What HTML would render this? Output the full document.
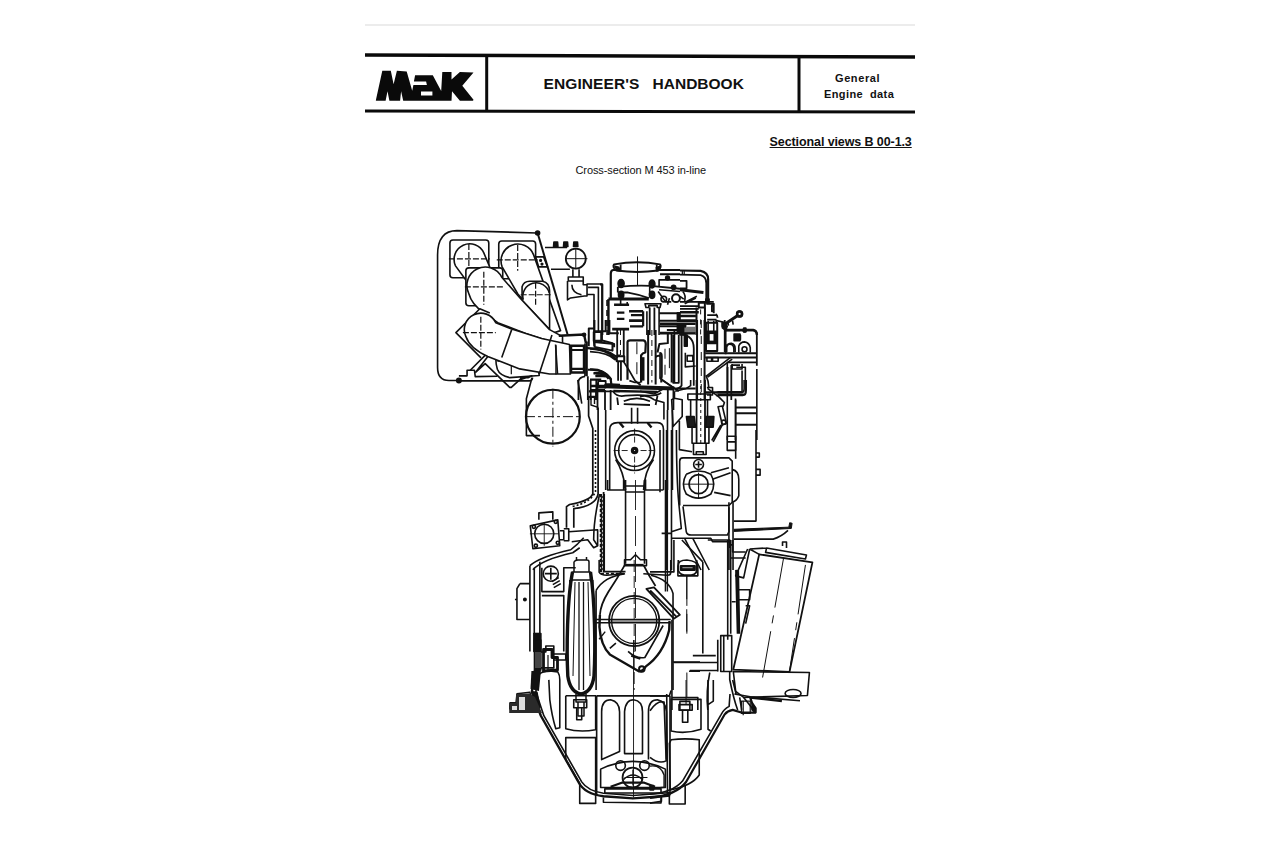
<!DOCTYPE html>
<html><head><meta charset="utf-8">
<style>
html,body{margin:0;padding:0;background:#fff;}
body{width:1280px;height:853px;position:relative;overflow:hidden;font-family:"Liberation Sans",sans-serif;color:#111;}
.abs{position:absolute;white-space:nowrap;}
.ln{position:absolute;background:#0a0a0a;}
#title{left:543.5px;top:75px;font-size:15.5px;font-weight:bold;letter-spacing:0.1px;}
#t2{left:652.6px;top:75px;font-size:15.5px;font-weight:bold;letter-spacing:0px;}
#gen{left:835px;top:72px;font-size:11px;font-weight:bold;letter-spacing:0.6px;}
#eng{left:824px;top:88px;font-size:11px;font-weight:bold;letter-spacing:0.4px;}
#sec{left:769.6px;top:135px;font-size:12.5px;font-weight:bold;letter-spacing:-0.1px;text-decoration:underline;}
#cross{left:575.5px;top:163.5px;font-size:11px;letter-spacing:-0.1px;}
svg{position:absolute;left:0;top:0;}
svg g[transform] *{vector-effect:non-scaling-stroke;}
</style></head><body>
<div class="ln" style="left:365px;top:24px;width:550px;height:2px;background:#ececec"></div>
<svg width="1280" height="853" viewBox="0 0 1280 853">
<g stroke="#0a0a0a" fill="none">
<path d="M365 55 L915 57" stroke-width="3.5"/>
<path d="M365 111 L915 112" stroke-width="3"/>
<path d="M486.7 56 L486.7 111" stroke-width="3"/>
<path d="M799 57 L799 112" stroke-width="3"/>
</g>
<g fill="#0a0a0a">
<path d="M375.8,100.6 L382.3,70.7 L390.8,70.7 L393.6,84.3 L396.9,70.7 L406.7,71.4 L412.2,90.8 L413.4,84.9 L426.9,84.9 L426.1,81.5 L413.9,81.5 L415.1,75.2 L432.8,75.2 L441.2,91 L442.3,72.1 L451.5,72.1 L451.5,79.6 L459.9,72.1 L473.5,72.6 L462.3,85.7 L473.5,99.8 L473,100.7 L459.9,100.7 L452,91.3 L451.5,100.7 Z M385.6,100.8 L387.5,91.3 L389.4,100.8 Z M400.1,100.8 L401.1,91.3 L403.2,100.8 Z M421,91.6 L432.4,91.6 L432.4,95.4 L421,95.4 Z" fill-rule="evenodd"/>
</g>

<g id="rA" transform="translate(430 225) scale(0.19928)" fill="none" stroke="#111" stroke-width="1.6" stroke-linejoin="round">
<path d="M145,780 L95,780 Q38,780 38,715 L38,150 Q38,28 135,28 L535,40"/>
<path d="M540,40 L690,548" stroke-width="2"/>
<path d="M145,782 L500,782 Q512,782 515,766 M145,757 L186,757 L186,729 L223,729 L227,761 L338,759"/>
<circle cx="540" cy="40" r="10" fill="#111"/><circle cx="145" cy="780" r="11" fill="#111"/>
<path d="M530,160 L570,160 L590,210 L545,210 Z"/><circle cx="555" cy="178" r="4" fill="#111"/><circle cx="562" cy="196" r="4" fill="#111"/>
<path d="M100,90 Q100,75 115,75 L280,75 Q295,75 295,90 L295,250 Q295,265 280,265 L115,265 Q100,265 100,250 Z" fill="#fff"/>
<path d="M128,205 A75,75 0 0 1 270,140 L310,235 L190,290 Z" fill="#fff"/>
<path d="M95,170 L300,170 M195,95 L195,250" stroke-dasharray="6 2" stroke-width="1.2"/>
<path d="M345,95 Q345,80 360,80 L515,80 Q530,80 530,95 L530,270 L345,270 Z" fill="#fff"/>
<path d="M362,210 A80,80 0 0 1 520,150 L655,530 L610,545 L440,345 Z" fill="#fff"/>
<path d="M335,175 L540,175 M440,100 L440,230" stroke-dasharray="6 2" stroke-width="1.2"/>
<path d="M462,380 L462,310 Q470,282 500,282 L565,282 Q600,290 600,330 L600,525 L455,370 Z" fill="#fff"/>
<path d="M468,375 A62,62 0 0 1 598,340"/>
<path d="M455,350 L610,350 M530,290 L530,400" stroke-dasharray="6 2" stroke-width="1.2"/>
<path d="M180,230 Q180,215 195,215 L350,215 Q365,215 365,230 L365,390 Q365,405 350,405 L195,405 Q180,405 180,390 Z" fill="#fff"/>
<path d="M195,345 A80,80 0 0 1 360,262 L455,370 L600,525 L665,560 L665,605 L480,545 L340,490 L270,440 Q210,400 195,345 Z" fill="#fff"/>
<path d="M175,310 L375,310 M270,235 L270,400" stroke-dasharray="6 2" stroke-width="1.2"/>
<path d="M300,442 L250,420 L130,540 L256,667" fill="#fff"/>
<path d="M202,729 L289,642 M227,741 L301,646 M227,741 L277,696 L400,815 L408,815 L462,766"/>
<path d="M330,663 Q330,700 338,724 Q350,755 400,766 L548,755 L540,700 Z" fill="#fff"/>
<path d="M338,683 L380,683 M408,692 L408,749" stroke-width="1.2"/>
<path d="M180,560 A75,75 0 0 1 330,490 L410,522 L560,570 L700,600 L705,748 L600,748 L450,722 L290,660 Q200,620 180,560 Z" fill="#fff"/>
<path d="M165,540 L330,540 M255,460 L255,625" stroke-dasharray="6 2" stroke-width="1.2"/>
<path d="M410,525 L360,665 M612,552 L548,748 M630,600 L640,748"/>
<path d="M620,108 L622,85 L640,85 L642,108 Z M670,108 L672,85 L690,85 L692,108 Z M720,108 L722,85 L740,85 L742,108 Z" fill="#111"/>
<path d="M577,113 L688,113 M607,222 L702,222 M717,222 L717,261 M748,222 L748,261"/>
<circle cx="731.6" cy="169" r="50" stroke-width="1.8"/>
<path d="M681,169 L790,169 M731.6,120 L731.6,218" stroke-width="1"/>
<path d="M694,261 L769,261 L769,281 L694,281 Z" stroke-width="1.6"/>
<path d="M690,281 L690,376 L705,366 L775,356 L788,356 L788,296 L863,296 L863,532 M769,281 L769,300 L788,300 M712,300 Q712,340 760,350"/>
<path d="M793,313 L845,313 L845,532 M788,349 L823,349 L823,532" stroke-width="1.6"/>

</g>



<g id="rC" transform="translate(520 320) scale(0.19928)" fill="none" stroke="#111" stroke-width="1.6" stroke-linejoin="round">
<circle cx="165" cy="485" r="135" stroke-width="2.2"/>
<path d="M25,485 L310,485 M165,345 L165,635" stroke-dasharray="10 3 3 3" stroke-width="1"/>
<path d="M60,290 L32,395 L32,580 L100,580 M290,300 L310,420"/>
<path d="M0,290 L40,290 L60,280 L0,300"/>
<path d="M430,452 L430,853 M740,452 L740,853 M765,452 L765,853"/>
<path d="M560,440 L560,520 M590,440 L590,520"/>
<path d="M450,853 L450,550 Q450,515 490,515 L690,515 Q720,515 720,550 L720,853"/>
<path d="M500,515 L520,540 M640,515 L660,540" stroke-width="2.4"/>
<circle cx="575" cy="655" r="100"/><circle cx="575" cy="655" r="80"/>
<circle cx="575" cy="655" r="11" stroke-width="3.2"/>
<path d="M470,655 L545,655 M605,655 L685,655 M575,545 L575,625 M575,685 L575,770" stroke-dasharray="6 2" stroke-width="0.9"/>
<path d="M480,700 Q520,760 530,853 M670,700 Q625,760 620,853 M520,853 L520,800 M630,853 L630,800"/>
</g>

<g id="rD" transform="translate(660 300) scale(0.16412)" fill="none" stroke="#111" stroke-width="1.6" stroke-linejoin="round">
<path d="M390,150 L475,92"/><circle cx="485" cy="85" r="16" stroke-width="2"/>
<path d="M380,140 L410,160 L400,185 L380,170 Z" fill="#111"/>
<path d="M400,330 L400,185 L570,185 Q590,188 590,210 L590,400" stroke-width="1.8"/>
<circle cx="515" cy="185" r="10" fill="#111"/>
<path d="M400,320 L400,290 Q400,270 425,270 Q450,270 450,300 L450,320 M480,320 L480,280 Q490,255 515,255 Q545,260 550,290 L550,320 M460,240 L460,215 L490,215 L490,240 Z"/>
<circle cx="515" cy="300" r="15"/>
<path d="M275,325 L590,325 M275,350 L590,350" stroke-width="2"/>
<path d="M280,465 L430,350 M290,470 L440,360"/>
<path d="M410,380 L590,380 M410,380 L410,853 M590,420 L590,853 M440,390 L440,420 L500,420 L500,390"/>
<path d="M465,410 L520,410 L520,575 L350,575 M500,430 L500,560 L350,560 M460,600 L460,853"/>
<path d="M460,655 L590,655 M460,690 L590,690 M460,760 L590,760" stroke-width="2"/>
</g>

<g id="rE" transform="translate(660 430) scale(0.16412)" fill="none" stroke="#111" stroke-width="1.6" stroke-linejoin="round">
<path d="M585,0 L585,555 L450,555" stroke-width="1.6"/>
<path d="M585,140 L605,140 L605,165 L585,165 M585,240 L610,240 L610,275 L585,275"/>
<path d="M450,605 L785,592 L790,565 L805,568 L800,600 L450,618" fill="#111" stroke-width="1"/>
<path d="M450,665 L690,665 Q740,650 780,612"/>
<path d="M120,460 L120,190 Q120,170 140,170 L420,170 L440,190 L440,440"/>
<path d="M140,460 L420,460 L440,440 M440,240 Q480,250 480,300 L480,400 Q470,430 440,440"/>
<circle cx="235" cy="210" r="30"/><path d="M215,210 L255,210 M235,190 L235,230"/>
<circle cx="235" cy="330" r="58" stroke-width="1.8"/>
<path d="M160,270 Q235,230 310,270 Q345,330 310,390 Q235,440 160,390 Q125,330 160,270"/>
<path d="M140,330 L330,330 M235,260 L235,420" stroke-width="1"/>
<path d="M310,260 L420,230 M320,300 L430,260 M330,380 L430,400"/>
<path d="M140,465 L160,620 Q165,640 190,640 L410,640 L420,620 L420,470"/>
<path d="M420,440 L420,853 M445,440 L445,853"/>
<path d="M40,0 L40,853 M70,0 L70,853 M100,0 Q100,300 115,450 L130,600 L70,620"/>
<path d="M0,0 L0,380"/>
<path d="M10,630 L70,630 M70,660 L130,660 L310,660 L320,680 L420,680"/>
<path d="M150,660 L250,853 M200,660 L300,853 M420,700 L440,700"/>
</g>

<g id="rF" transform="translate(500 480) scale(0.19928)" fill="none" stroke="#111" stroke-width="1.6" stroke-linejoin="round">
<path d="M630,0 L630,420 M725,0 L725,420"/>
<path d="M630,30 L725,30 M630,60 L725,60 M625,400 L655,400 L680,375 L705,400 L735,400 L735,430 L625,430 Z"/>
<path d="M680,0 L680,860" stroke-dasharray="30 6" stroke-width="0.9"/>
<path d="M520,60 L520,460 L630,460" stroke-width="1.8"/><path d="M505,70 L505,470 L630,470" stroke-width="1.8" stroke-dasharray="3 2"/>
<path d="M830,0 L830,560 M840,0 L840,560" stroke-width="1.4"/>
<path d="M540,0 L540,50 L630,50 M820,50 L725,50"/>
<path d="M152,230 L290,200 L300,330 L165,345 Z"/>
<circle cx="222" cy="270" r="48"/>
<path d="M150,270 L295,270 M222,215 L222,330" stroke-width="0.9"/>
<path d="M195,200 L195,165 L265,160 L265,200"/>
<circle cx="170" cy="235" r="8"/><circle cx="280" cy="210" r="8"/><circle cx="180" cy="330" r="8"/><circle cx="290" cy="315" r="8"/>
<path d="M300,255 L320,255 L320,300 L300,300 M320,245 L345,245 L345,305 L320,305 M345,260 L490,250 L490,330 L470,340 L440,300 L360,310"/>
<path d="M150,430 Q200,385 355,350 L390,320 L420,290 M165,450 Q210,400 365,365 L400,340" stroke-width="1.6"/>
<path d="M210,440 L210,560 L320,560 L320,440 L380,440"/>
<circle cx="255" cy="470" r="38"/><path d="M225,470 L285,470 M255,440 L255,500"/>
<path d="M260,510 L295,490 M265,525 L300,505 M270,540 L305,520"/>
<path d="M150,430 L150,860 M200,410 L200,860 M210,580 L320,580 L320,860 M172,440 L172,770"/><circle cx="125" cy="600" r="6" fill="#111"/><path d="M168,770 L200,770" stroke-width="1"/>
<path d="M100,520 L150,520 M100,520 L85,545 L85,700 L150,700 M75,600 L85,600"/>
<path d="M170,770 L205,770 L205,860 L170,860 Z" fill="#111"/>
<path d="M500,70 Q470,200 470,300 L490,330"/>
</g>

<g id="rG" transform="translate(500 640) scale(0.19928)" fill="none" stroke="#111" stroke-width="1.6" stroke-linejoin="round">
<path d="M175,0 L175,150 L160,260 L205,380 L395,715 Q425,772 519,784 L667,795 L815,784 L853,780" stroke-width="2.4"/>
<path d="M195,0 L195,140 L180,260 L220,380 L410,712 Q440,757 519,769 L667,780 L815,769 L853,765"/>
<path d="M175,0 L205,0 L205,150 L180,160 Z M160,260 L185,262 L200,340 L180,345 Z" fill="#111"/>
<path d="M50,345 L50,315 L80,315 L85,270 L150,262 L170,345 Z" stroke-width="1.4"/>
<path d="M50,330 L90,330 L90,345 L50,345 Z" fill="#111"/>
<path d="M195,175 Q210,155 250,155 L290,160 Q300,175 300,200 L300,440 L280,445 Q260,380 250,300 L245,200"/>
<path d="M200,60 L200,140 L270,140 L270,30 L230,30 L230,60 Z M270,100 L330,100 L330,70 L270,70"/>

<path d="M370,300 L435,300 L435,340 L370,340 Z M385,340 L385,400 L410,400 L410,340"/>
<path d="M330,280 L330,445 Q400,465 480,450 L480,280 L330,280"/>
<path d="M330,490 L480,490 L480,820 L400,820 L400,720 L330,600 Z"/>
<path d="M485,280 L853,280" stroke-width="1.8"/>
<path d="M510,600 L510,360 Q510,300 555,300 Q600,310 600,360 L600,560 Z M625,570 L625,360 Q630,300 670,300 Q715,305 715,360 L715,570 Z M745,600 L745,360 Q745,300 790,300 Q835,310 835,360 L835,600"/>
<path d="M485,280 L485,780 M853,280 L853,780"/>
<path d="M505,648 Q667,570 830,648 L830,740 L505,740 Z"/>
<circle cx="665" cy="690" r="50" stroke-width="1.8"/>
<circle cx="605" cy="630" r="24"/><circle cx="725" cy="630" r="24"/>
<path d="M555,736 L611,716 L724,716 L778,736" stroke-width="2.2"/><path d="M620,700 Q667,655 715,700" stroke-width="1.6"/>
<path d="M625,690 L740,690 M667,650 L667,730" stroke-width="1.2"/>
<path d="M526,747 L808,747 L808,768 L526,768 Z M519,790 L519,814 L808,818 L808,790"/>
<path d="M670,0 L670,790" stroke-width="0.9"/>
</g>

<g id="rH" transform="translate(650 540) scale(0.19928)" fill="none" stroke="#111" stroke-width="1.6" stroke-linejoin="round">
<path d="M548,72 L815,112 L700,662 L418,650 Z" stroke-width="1.8"/>
<path d="M670,92 L565,690 M780,125 L700,660" stroke-dasharray="50 8 8 8" stroke-width="1"/>
<path d="M585,40 L785,75 L780,95 L580,62 Z M500,45 L585,40 M500,45 L470,190 L430,180 L490,45 M500,45 L548,72"/>
<path d="M665,30 L665,10 L685,10 L685,40" stroke-width="1.6"/>
<path d="M418,660 L800,665 L790,780 L470,790 L430,760 Z"/>
<ellipse cx="718" cy="770" rx="40" ry="20"/>
<path d="M470,790 L520,853 M450,790 L460,853"/>
<path d="M390,0 L390,500 M405,0 L405,470 M415,0 L415,60 L480,60 M405,90 L480,90"/>
<path d="M432,150 L440,470 M442,150 L448,470" stroke-width="2"/>
<path d="M440,250 L500,250 L500,300 L440,300 M410,310 L430,310 M480,330 L500,330 L480,420"/>
<path d="M355,480 L410,480 L410,660 L355,660 Z M370,480 L370,660 M340,500 L340,660"/>
<path d="M140,180 L140,130 Q140,100 185,100 Q240,105 240,135 L240,180 Z"/>
<path d="M155,130 L225,130 L225,150 L155,150 Z" stroke-width="2"/>
<path d="M185,180 L185,470" stroke-dasharray="30 8" stroke-width="1"/>
<path d="M265,110 L265,570 M160,0 L265,110 M120,0 L120,160 L0,160"/>
<path d="M215,580 L330,580 M120,615 L340,615 M200,655 L340,655"/>
<path d="M110,400 L110,853 M110,790 L240,790 L240,853 M150,810 L200,810 L200,853 L150,853 Z"/>
<path d="M185,665 L185,790" stroke-dasharray="30 8" stroke-width="1"/>
<path d="M300,665 Q280,760 290,853 M400,660 L400,700 Q420,800 440,853"/>
<path d="M290,0 L400,0 L400,40"/>
</g>

<g id="rI" transform="translate(650 680) scale(0.17584)" fill="none" stroke="#111" stroke-width="1.6" stroke-linejoin="round">
<path d="M0,670 Q150,655 205,580 L425,195 Q440,175 470,170 L520,185 L600,185 L600,160 L580,130 L570,100 L750,120" stroke-width="2.2"/>
<path d="M0,650 Q130,640 185,575 L405,195 Q420,165 450,150 L455,80"/>
<path d="M480,80 L570,95 L853,118 M470,0 L490,80"/>
<path d="M520,120 L570,120 L570,190 L520,190 Z M530,120 L530,200" stroke-width="1.2"/>
<path d="M580,135 L600,160 L600,185 L580,170 Z" fill="#111"/>
<path d="M120,110 L290,110 L290,280 Q200,310 120,290 Z" stroke-width="1.6"/>
<path d="M165,140 L240,140 L240,172 L165,172 Z M185,172 L185,240 L215,240 L215,172" stroke-width="1.6"/>
<path d="M205,0 L205,140" stroke-dasharray="25 8" stroke-width="1"/>
<path d="M120,340 Q200,330 280,340 L280,540 Q240,600 115,625 L110,360 Z" stroke-width="1.6"/>
<path d="M0,175 Q40,115 80,125 L92,460 Q50,480 0,440" stroke-width="1.6"/>
<path d="M0,490 Q60,480 80,540 L80,610 L0,620" stroke-width="1.4"/>
<path d="M95,80 L100,660 M0,90 L110,90 L120,60 M330,0 L330,280 L345,290 M360,0 L360,120 L330,140"/>
<path d="M110,660 L110,705 L200,705 L200,600 M0,700 L65,690 L65,660"/>
<path d="M0,600 L20,600 L20,625 L0,625 Z" fill="#111"/>
</g>

<g id="rJ" transform="translate(640 380) scale(0.14069)" fill="none" stroke="#111" stroke-width="1.6" stroke-linejoin="round">
<path d="M402,0 L402,455 M462,0 L462,455" stroke-width="1.8"/>
<path d="M432,0 L432,450" stroke-dasharray="3 3" stroke-width="1"/>
<path d="M340,140 L340,100 L500,100 L500,140 L340,140 M360,140 L360,260 M480,140 L480,260"/>
<path d="M330,260 L385,260 L395,335 L340,335 Z M470,260 L525,260 L520,335 L465,335 Z" fill="#1a1a1a"/>
<path d="M370,335 L370,450 L490,450 L490,335 M380,450 L380,530 L470,530 L470,450 M400,510 L450,510 L450,530 L400,530 Z"/>
<path d="M245,80 L245,130 L225,140 L235,330 L300,260 L300,140 L245,130 M280,290 L280,495 L370,510"/>
<path d="M555,190 L585,185 L615,310 L585,320 Z" stroke-width="1.6"/>
<circle cx="595" cy="300" r="15"/>
<path d="M590,310 L520,440 M575,320 L510,430"/>
<path d="M620,400 L680,400 L680,500 L620,500 Z M620,440 L680,440"/>
<path d="M540,90 L720,90 Q740,90 740,60 L740,0 M540,110 L730,110 Q755,110 755,70 L755,0"/>
<path d="M680,140 L680,560" stroke-width="1.6"/>
<path d="M330,60 L360,40 L360,0 M250,80 L330,60 M480,60 L560,120 L600,160 L590,190"/>
<path d="M100,100 L170,60 L230,60 M0,60 L160,60 M0,80 L100,100 M0,120 Q50,100 100,140 L170,160 L170,280"/>
</g>

<g id="rK" transform="translate(600 255) scale(0.09379)" fill="none" stroke="#111" stroke-width="1.6" stroke-linejoin="round">
<path d="M175,165 Q130,130 150,100 Q400,55 640,100 Q660,130 620,165 Q400,195 175,165 Z" stroke-width="2"/>
<path d="M220,100 L220,168 M605,100 L605,168" stroke-width="1.8"/>
<path d="M160,120 L200,130 L215,170 L185,165 Z M640,120 L600,135 L605,170 L630,160 Z" fill="#111"/>
<path d="M400,15 L400,320" stroke-width="1"/>
<path d="M175,160 L140,160 Q115,165 115,200 L115,470" stroke-width="2.2"/>
<path d="M630,160 L853,160 M640,205 L853,205" stroke-width="1.8"/>
<ellipse cx="225" cy="305" rx="32" ry="42" fill="#111"/><ellipse cx="225" cy="425" rx="28" ry="38" fill="#111"/>
<ellipse cx="555" cy="310" rx="30" ry="42" fill="#111"/><ellipse cx="555" cy="425" rx="28" ry="38" fill="#111"/>
<path d="M190,340 Q400,320 540,330 L853,360 M190,400 L300,400 Q420,420 520,460 M190,340 L190,400" stroke-width="1.8"/>
<path d="M530,340 L530,420 M630,370 L853,390"/>
<path d="M630,340 L630,265 L853,265" stroke-width="1.6"/>
<circle cx="720" cy="245" r="20" fill="#111"/><circle cx="785" cy="345" r="22" fill="#111"/>
<circle cx="680" cy="470" r="30"/><circle cx="810" cy="460" r="42" stroke-width="2"/>
<path d="M620,390 L700,500 L760,500 M740,460 L720,530"/>
<path d="M90,470 L520,470" stroke-width="3"/>
<path d="M480,520 L650,520 L640,560 L610,560 L610,540 L520,540 L520,560 L490,560 Z"/>
<path d="M530,560 L530,853 M580,560 L580,853" stroke-width="1.8"/>
<path d="M150,530 L310,530 M310,600 L460,600 M310,700 L460,700 M130,790 L310,790" stroke-width="2.6"/>
<path d="M180,615 L260,615 M180,680 L260,680 M330,640 L460,640 M460,600 L460,760 M320,760 L460,760" stroke-width="2.2"/>
<path d="M220,470 L220,530 M290,500 L290,530"/>
<path d="M630,620 L853,620 M630,700 L853,700 M630,760 L853,760" stroke-width="2"/>
<path d="M825,615 L853,615 L853,705 L825,705 Z" fill="#111"/>
<path d="M90,470 L90,853" stroke-width="2.4"/><path d="M75,480 L75,853" stroke-dasharray="6 4"/>
<path d="M0,315 L25,315 L25,853" stroke-width="2"/>
<path d="M630,560 L630,853 M500,600 L500,853"/>
</g>

<g id="rL" transform="translate(680 255) scale(0.09379)" fill="none" stroke="#111" stroke-width="1.6" stroke-linejoin="round">
<path d="M0,165 L220,170 Q300,185 300,260 L300,480" stroke-width="2.2"/>
<path d="M0,210 L220,215 Q280,230 280,300 L280,470" stroke-width="1.8"/>
<path d="M25,170 L25,205 M45,170 L45,205" stroke-width="1.2"/>
<path d="M0,275 L70,275 L70,355 L0,355" stroke-width="1.8"/>
<path d="M0,370 L250,400" stroke-width="3"/>
<path d="M30,390 Q65,430 50,490 M60,500 L180,440 M50,520 L170,460 M0,440 L40,470"/>
<path d="M275,470 L310,470 L310,510 L275,510 Z" fill="#111"/>
<path d="M0,500 L360,500 M0,545 L200,545 M0,575 L200,575" stroke-width="1.8"/>
<path d="M200,510 L265,510 L265,560 L200,560 Z" stroke-width="2"/>
<path d="M176,560 L176,853 M266,560 L266,853" stroke-width="2"/>
<path d="M220,580 L220,853" stroke-dasharray="5 5" stroke-width="1"/>
<path d="M280,520 L360,520 L360,620 M340,540 L360,540 L360,600 L340,600 Z M290,640 L390,640 M290,690 L390,690 M380,630 Q400,640 400,670" stroke-width="1.8"/>
<path d="M480,735 L612,648" stroke-width="3"/><circle cx="635" cy="628" r="26" stroke-width="2.6"/>
<path d="M450,720 L500,735 L480,780 L450,760 Z" fill="#111"/>
<path d="M510,710 L520,770 M560,700 L570,760" stroke-dasharray="4 3"/>
<path d="M480,800 L780,800 Q820,810 820,853" stroke-width="2.4"/>
<rect x="680" y="778" width="22" height="42" fill="#111"/>
<path d="M0,610 L200,610 M0,650 L170,650 M0,700 L170,700" stroke-width="2.6"/>
<path d="M0,740 L60,740 L60,853 L0,853 Z" fill="#111"/>
<path d="M70,765 L170,765 L170,825 L70,825 Z" fill="#777" stroke="none"/>
<path d="M390,700 L480,720 M360,700 L360,853 M300,700 L300,853"/>
</g>

<g id="rM" transform="translate(590 330) scale(0.09375)" fill="none" stroke="#111" stroke-width="1.6" stroke-linejoin="round">
<path d="M120,20 L40,20 L40,110 L50,180 L240,220 L240,140 L120,110 Z" stroke-width="2"/>
<path d="M0,200 Q220,215 290,330 M0,230 Q200,240 270,320" stroke-width="1.8"/>
<path d="M0,420 Q140,410 220,520 L230,600 M40,460 Q140,445 200,520 M60,480 L180,495 M0,530 L120,530" stroke-width="2.2"/>
<path d="M290,0 L290,280 M360,0 L360,280" stroke-width="1.8"/>
<path d="M325,0 L325,280" stroke-dasharray="5 5" stroke-width="1"/>
<path d="M285,280 L365,280 L365,332 L285,332 Z" stroke-width="2"/>
<path d="M300,340 L300,540 M360,340 Q420,430 480,540 L540,590 M330,340 L330,540" stroke-width="1.8"/>
<path d="M400,530 L400,130 Q400,110 430,110 L570,110 Q595,115 595,150 L590,240 Q560,245 545,270 L545,560" stroke-width="2.2"/>
<path d="M500,130 L500,520" stroke-dasharray="12 8" stroke-width="1"/>
<path d="M560,290 L560,540" stroke-width="4"/>
<path d="M620,0 L620,580 M700,0 L700,580" stroke-width="2"/>
<path d="M660,0 L660,560" stroke-dasharray="6 4" stroke-width="1"/>
<path d="M700,290 Q720,265 760,280 L760,560 M830,40 L830,140 L740,150 L720,240" stroke-width="2"/>
<path d="M870,40 L870,560 M900,0 L900,560 M820,0 L960,0" stroke-width="1.8"/>
<path d="M800,200 L800,500" stroke-dasharray="10 6" stroke-width="1"/>
<path d="M760,530 L900,620 M420,540 L480,560 L540,560" stroke-width="1.6"/>
<path d="M150,600 L900,625" stroke-width="4"/>
<path d="M250,650 L720,660" stroke-width="2.4"/>
<path d="M250,660 Q290,720 380,700 Q500,690 640,700 Q720,700 760,670 M360,760 Q500,700 640,760 M360,790 L640,800 M290,720 L300,800 M720,700 L700,800" stroke-width="1.8"/>
<path d="M160,640 L160,853 M220,640 L220,853 M830,640 L830,853 M890,640 L890,853" stroke-width="1.8"/>
<path d="M0,600 L150,600 M0,640 L160,640 M80,560 L80,853" stroke-width="1.8"/>
</g>

<g id="rP" transform="translate(540 320) scale(0.09381)" fill="none" stroke="#111" stroke-width="1.6" stroke-linejoin="round">
<path d="M200,168 L470,155 L490,250" stroke-width="2.4"/><circle cx="470" cy="157" r="16" fill="#111"/>
<path d="M330,275 L470,275 L470,560 L330,560 Z" stroke-width="2.6"/>
<path d="M340,320 L462,320 M340,520 L462,520" stroke-width="2.2"/>
<path d="M170,270 L170,580" stroke-width="1.4"/>
<path d="M480,250 L480,600 M500,230 L500,600" stroke-width="1.8"/>
<path d="M520,280 L520,90 L580,90 L580,280 M570,120 L660,120 L660,220 L580,220 M580,235 L790,255 L790,290 M660,120 L700,120 L700,0 M580,90 L580,0 M740,0 L740,140 L840,140" stroke-width="2"/>
<path d="M500,300 Q700,300 830,400 M830,380 L853,380" stroke-width="2.2"/>
<path d="M510,530 Q700,520 760,640 M570,570 Q680,560 730,615 M590,600 L700,600" stroke-width="2"/>
<path d="M410,853 L410,650 Q420,610 480,600 M510,600 L510,853 M540,640 L540,853 M600,640 L600,853 M540,700 L853,700 M600,760 L853,760" stroke-width="1.8"/>
<path d="M620,650 L700,650 L700,720 L620,720 Z M700,680 L853,690" stroke-width="1.8"/>
<path d="M520,760 L600,760 L600,853 M520,820 L600,820" stroke-width="2.2"/>
</g>

<g id="rN" transform="translate(660 320) scale(0.09381)" fill="none" stroke="#111" stroke-width="1.6" stroke-linejoin="round">
<path d="M395,0 L395,853 M475,0 L475,853" stroke-width="2"/>
<path d="M440,0 L440,853" stroke-dasharray="8 8" stroke-width="1"/>
<path d="M140,160 L140,670 L200,670 L200,160" stroke-width="1.8"/>
<path d="M100,300 L100,600" stroke-dasharray="20 10" stroke-width="1"/>
<path d="M260,160 L290,160 L290,280 L260,280 Z" fill="#111"/>
<path d="M230,150 Q360,170 360,300 L360,700 M230,160 L230,700 Q220,720 170,740" stroke-width="1.8"/>
<path d="M0,350 Q20,350 20,380 L20,600 Q20,620 0,620 Z" fill="#666" stroke="#111"/>
<path d="M0,620 L170,740 L200,760 M0,730 L380,730" stroke-width="1.8"/>
<path d="M270,350 L270,500 L380,490 M290,380 L350,380 L350,440 L290,440 Z" stroke-width="1.6"/>
<path d="M490,30 L610,30 L610,330 L490,330 Z" stroke-width="2"/>
<path d="M500,120 L600,120 L600,250 L500,250 Z" fill="#111"/>
<path d="M530,150 L570,150 L570,220 L530,220 Z" fill="#fff" stroke="none"/>
<path d="M690,0 L690,340 M700,110 L853,110 M600,0 L600,30" stroke-width="1.8"/>
<path d="M710,340 L710,290 Q720,250 760,250 Q800,260 800,300 L800,340" stroke-width="1.8"/>
<path d="M790,150 L853,150 L853,220 L790,220 Z" fill="#111"/>
<path d="M500,400 L550,400 L550,440 L500,440 Z M560,400 L620,400 L620,440 L560,440 Z" stroke-width="1.6"/>
<path d="M720,500 L720,760 M760,480 L760,853 M760,480 L853,480 M475,770 L853,770" stroke-width="1.8"/>
<path d="M490,590 Q520,650 520,720 M500,720 L560,720 L560,800 L500,800" stroke-width="1.6"/>
<path d="M0,40 L380,40 M0,140 L380,140" stroke-width="2.6"/>
<path d="M185,50 L260,50 L260,140 L185,140 Z" fill="#111"/>
<path d="M260,80 L380,80 L380,130 L260,130 Z" fill="#777" stroke="none"/>
</g>

<g id="rQ" fill="none" stroke="#111" stroke-width="1.6" stroke-linejoin="round">
<path d="M588.6,396 L588.6,415.9 L592.8,428.5 L592.8,493.9 Q590,501 569.6,504.5 L566.5,506.6 L566.5,527.7" stroke-width="1.7"/>
<path d="M598.1,407.4 L598.1,493.9 Q596,506 573.8,508.7 L573.8,527.7" stroke-width="1.7"/>
<path d="M595.5,430 L595.5,492 Q590,503 572,506.5" stroke-width="1.6" stroke-dasharray="2 2"/>
<path d="M601.3,494 L601.3,572 M604.4,494 L604.4,572" stroke-width="1.3"/>
<path d="M603,496 L603,570" stroke-width="1.5" stroke-dasharray="2 2"/>
<path d="M591,396 L591,405 L598.1,407.4 M594.5,396 L594.5,404" stroke-width="1.4"/>
</g>

<g id="rR" fill="none" stroke="#111" stroke-linejoin="round">
<path d="M572.5,572 C567,600 566.5,650 567.8,676 Q570,692 581,694 Q592,692 594,676 C595.5,650 595,600 590.5,572" stroke-width="3.4"/>
<path d="M572,572 L590.5,572 L590.5,580 L572,580 Z" stroke-width="1.6"/>
<path d="M574,572 L574,562 Q575,560 578,560 L587,560 Q589,560 589,562 L589,572 M576.5,560 L576.5,557 M586.5,560 L586.5,557" stroke-width="1.5"/>
<path d="M575,582 L573,676 M588,582 L590,676" stroke-width="1"/>
<path d="M579,582 L579,690 M583.5,582 L583.5,690" stroke-width="1.3"/>
<path d="M570,580 L570,590 M592.5,580 L592.5,590" stroke-width="2"/>
<path d="M576,694 L576,702 L586,702 L586,694 M578,702 L578,716 L584,716 L584,702" stroke-width="1.5"/>
</g>

<g id="rS" transform="translate(590 560) scale(0.15234)" fill="none" stroke="#111" stroke-width="1.6" stroke-linejoin="round">
<path d="M40,200 Q90,110 230,90 M400,100 Q520,130 545,220 L545,853 M40,200 L40,853" stroke-width="1.6"/>
<path d="M60,0 L60,80 Q70,100 110,100 L220,90 M350,90 L510,100 Q530,100 530,80 L530,0" stroke-width="1.6"/>
<path d="M230,30 Q180,120 120,210 Q70,290 65,360 M350,30 Q390,110 430,170" stroke-width="1.8"/>
<path d="M230,30 L350,30" stroke-width="1.4"/>
<path d="M65,360 L62,440 Q70,560 130,620 L320,730 Q345,735 365,700 Q480,620 520,460 L522,400" stroke-width="2.4"/>
<circle cx="340" cy="715" r="18" stroke-width="2"/>
<circle cx="290" cy="400" r="165" stroke-width="1.8"/>
<circle cx="290" cy="400" r="148" stroke-width="1.4"/>
<path d="M40,390 L530,390 M40,412 L530,412" stroke-width="1.5"/><path d="M130,401 L460,401" stroke-width="0.8"/>
<path d="M370,190 L420,180 L590,360 L550,385 Z M395,200 L565,370" stroke-width="1.8"/>
<path d="M130,580 L170,545 M250,600 Q300,650 360,640 L480,430 M270,630 L330,650" stroke-width="1.6"/>
<path d="M100,470 L60,520" stroke-width="1.4"/>
<path d="M290,0 L290,853" stroke-dasharray="12 4" stroke-width="0.9"/>
<path d="M580,0 L580,70 Q590,100 640,100 Q700,100 700,70 L700,0" stroke-width="1.8"/>
<path d="M600,40 L680,40 L680,60 L600,60 Z" stroke-width="2" fill="#888"/>
<path d="M635,100 L635,470" stroke-dasharray="24 10" stroke-width="1"/>
<path d="M545,670 L722,670 M650,730 L722,730" stroke-width="1.6"/>
</g>

<g id="rT" stroke="#111" stroke-linejoin="round">
<path d="M543.5,649.5 L552,649.5 L552,657.5 L557.5,657.5 L557.5,670 L543.5,671 Z" fill="none" stroke-width="2.8"/>
<path d="M548,655 L548,670" stroke-width="1.2"/>
<path d="M531.4,671 L540.9,671 L539,691 L530.5,689 Z" fill="#111" stroke="none"/>
<path d="M535,652 L541,652 L541,668 L535,668 Z" fill="#444" stroke="none"/>
<path d="M509.2,711 L509.2,703 L516,703 L516,694 L529,693.5 L535,697 L542,713 L509.2,713 Z" fill="#2a2a2a" stroke="none"/>
<path d="M519,697 L525,697 L525,710 L519,710 Z M512,706 L517,706 L517,710 L512,710 Z" fill="#ddd" stroke="none"/>
</g>
</svg>
<div class="abs" id="title">ENGINEER'S</div>
<div class="abs" id="t2">HANDBOOK</div>
<div class="abs" id="gen">General</div>
<div class="abs" id="eng">Engine&nbsp; data</div>
<div class="abs" id="sec">Sectional views B 00-1.3</div>
<div class="abs" id="cross">Cross-section M 453 in-line</div>
</body></html>
